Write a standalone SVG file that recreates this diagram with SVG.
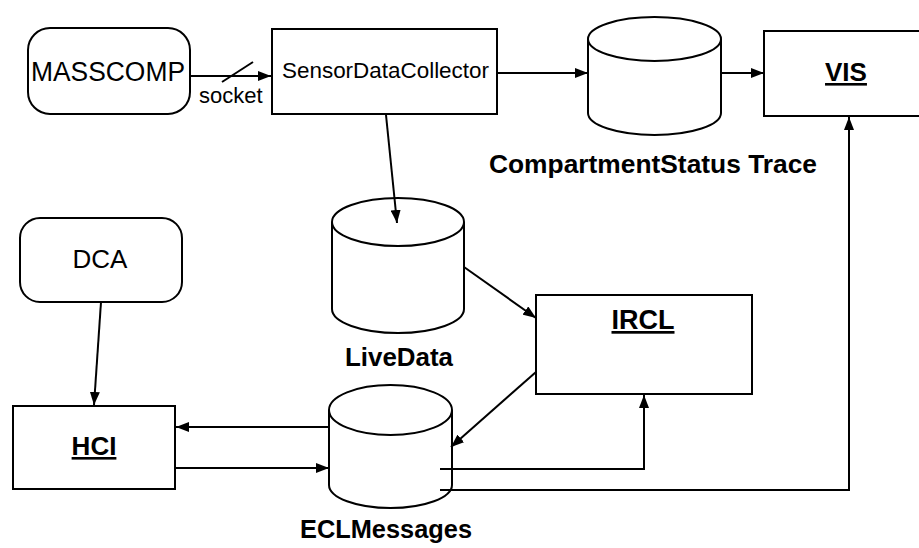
<svg xmlns="http://www.w3.org/2000/svg" width="919" height="548" viewBox="0 0 919 548">
  <style>
    .shape { fill: #ffffff; stroke: #000000; stroke-width: 2; }
    .wire { fill: none; stroke: #000000; stroke-width: 2; }
    .txt { font-family: "Liberation Sans", Arial, sans-serif; fill: #000000; }
    .plain { font-weight: normal; }
    .bold { font-weight: bold; }
    .uline { text-decoration: underline; }
  </style>
  <defs>
    <marker id="head" viewBox="0 0 13 10" refX="13" refY="5" markerWidth="13" markerHeight="10" markerUnits="userSpaceOnUse" orient="auto">
      <path d="M0,0 L13,5 L0,10 Z" fill="#000000"/>
    </marker>
  </defs>
  <rect width="919" height="548" fill="#ffffff"/>

  <!-- nodes -->
  <g id="masscomp">
    <rect class="shape" x="28" y="28" width="162" height="86" rx="22" ry="22"/>
    <text class="txt plain" x="108" y="81" font-size="27" text-anchor="middle" textLength="154" lengthAdjust="spacingAndGlyphs">MASSCOMP</text>
  </g>

  <g id="sensor-data-collector">
    <rect class="shape" x="272" y="29" width="225" height="85"/>
    <text class="txt plain" x="282" y="78" font-size="22" textLength="207" lengthAdjust="spacingAndGlyphs">SensorDataCollector</text>
  </g>

  <g id="compartment-status-trace">
    <path class="shape" d="M588,39 V113 A66.5,22 0 0 0 721,113 V39"/>
    <ellipse class="shape" cx="654.5" cy="39" rx="66.5" ry="22"/>
    <text class="txt bold" x="653" y="173" font-size="26" text-anchor="middle" textLength="328" lengthAdjust="spacingAndGlyphs">CompartmentStatus Trace</text>
  </g>

  <g id="vis">
    <rect class="shape" x="764" y="31" width="160" height="85"/>
    <text class="txt bold uline" x="846" y="81" font-size="26" text-anchor="middle">VIS</text>
  </g>

  <g id="live-data">
    <path class="shape" d="M332,222 V309 A66,24 0 0 0 464,309 V222"/>
    <ellipse class="shape" cx="398" cy="222" rx="66" ry="24"/>
    <text class="txt bold" x="399" y="366" font-size="26" text-anchor="middle" textLength="108" lengthAdjust="spacingAndGlyphs">LiveData</text>
  </g>

  <g id="ircl">
    <rect class="shape" x="536" y="295" width="216" height="99"/>
    <text class="txt bold uline" x="643" y="329" font-size="27" text-anchor="middle">IRCL</text>
  </g>

  <g id="dca">
    <rect class="shape" x="20" y="218" width="162" height="84" rx="20" ry="20"/>
    <text class="txt plain" x="100" y="268" font-size="26" text-anchor="middle">DCA</text>
  </g>

  <g id="hci">
    <rect class="shape" x="13" y="406" width="162" height="83"/>
    <text class="txt bold uline" x="94" y="455" font-size="26" text-anchor="middle">HCI</text>
  </g>

  <g id="ecl-messages">
    <path class="shape" d="M329,410 V485 A61.5,23 0 0 0 452,485 V410"/>
    <ellipse class="shape" cx="390.5" cy="410" rx="61.5" ry="25"/>
    <text class="txt bold" x="386" y="538" font-size="26" text-anchor="middle" textLength="172" lengthAdjust="spacingAndGlyphs">ECLMessages</text>
  </g>

  <!-- connectors, drawn over the nodes -->
  <g id="connectors">
    <line class="wire" x1="190" y1="76" x2="271" y2="76" marker-end="url(#head)"/>
    <line class="wire" x1="222" y1="82" x2="253" y2="62"/>
    <line class="wire" x1="497" y1="73" x2="588" y2="73" marker-end="url(#head)"/>
    <line class="wire" x1="721" y1="73" x2="764" y2="73" marker-end="url(#head)"/>
    <line class="wire" x1="386" y1="115" x2="397" y2="223" marker-end="url(#head)"/>
    <line class="wire" x1="464" y1="267" x2="536" y2="318" marker-end="url(#head)"/>
    <line class="wire" x1="536" y1="372" x2="451" y2="447" marker-end="url(#head)"/>
    <polyline class="wire" points="440,469 644,469 644,395" marker-end="url(#head)"/>
    <polyline class="wire" points="440,490 849,490 849,117" marker-end="url(#head)"/>
    <line class="wire" x1="101" y1="302" x2="94" y2="405" marker-end="url(#head)"/>
    <line class="wire" x1="329" y1="427" x2="176" y2="427" marker-end="url(#head)"/>
    <line class="wire" x1="175" y1="468" x2="329" y2="468" marker-end="url(#head)"/>
  </g>
  <text class="txt plain" x="199" y="103" font-size="22">socket</text>
</svg>
